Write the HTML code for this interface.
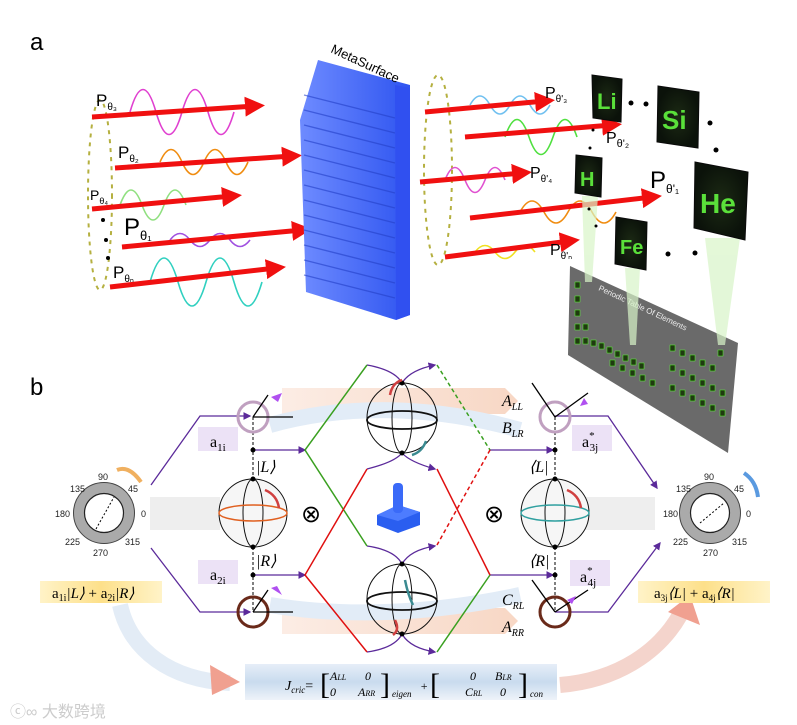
<!DOCTYPE html>
<html><head><meta charset="utf-8"><style>
body{margin:0;background:#fff}
svg{display:block;font-family:"Liberation Sans",sans-serif}
.s{font-family:"Liberation Serif",serif}
</style></head><body>
<svg width="797" height="725" viewBox="0 0 797 725" xmlns="http://www.w3.org/2000/svg">
<defs>
<linearGradient id="ms" x1="0" x2="1"><stop offset="0" stop-color="#6e8bff"/><stop offset="1" stop-color="#2f55f0"/></linearGradient>
<linearGradient id="yl" x1="0" x2="1"><stop offset="0" stop-color="#fff3c8"/><stop offset=".5" stop-color="#fde08a"/><stop offset="1" stop-color="#fff3c8"/></linearGradient>
<linearGradient id="eq" x1="0" y1="0" x2="0" y2="1"><stop offset="0" stop-color="#e6eef8"/><stop offset=".5" stop-color="#c9dbee"/><stop offset="1" stop-color="#eef3f9"/></linearGradient>
<linearGradient id="pk" x1="0" x2="1"><stop offset="0" stop-color="#fbe8de"/><stop offset="1" stop-color="#f6cdb6"/></linearGradient>
<radialGradient id="el"><stop offset="0" stop-color="#1c2a14"/><stop offset="1" stop-color="#0b120a"/></radialGradient>
<marker id="pa" markerWidth="6" markerHeight="6" refX="5" refY="3" orient="auto"><path d="M0,0 L6,3 L0,6z" fill="#5b2a9a"/></marker>
<marker id="ra" markerWidth="4" markerHeight="4" refX="2" refY="2" orient="auto"><path d="M0,0 L4,2 L0,4z" fill="#f01010"/></marker>
</defs>

<text x="30" y="50" font-size="24">a</text>

<ellipse cx="100" cy="195" rx="12" ry="95" fill="none" stroke="#b5b040" stroke-width="2" stroke-dasharray="4 5"/>
<ellipse cx="438" cy="170" rx="14" ry="95" fill="none" stroke="#b5b040" stroke-width="2" stroke-dasharray="4 5"/>

<g fill="none" stroke-width="1.6">
<path d="M130,112 q13,-45 26,0 t26,0 t26,0 t26,0" stroke="#e040d0"/>
<path d="M160,162 q11,-25 22,0 t22,0 t22,0 t22,0" stroke="#f08c10"/>
<path d="M120,205 q11,-30 22,0 t22,0 t22,0" stroke="#90e080"/>
<path d="M170,240 q10,-13 20,0 t20,0 t20,0 t20,0" stroke="#a050e0"/>
<path d="M150,282 q14,-48 28,0 t28,0 t28,0 t28,0" stroke="#30d0c0"/>
</g>
<g stroke="#f01010" stroke-width="5" marker-end="url(#ra)">
<line x1="92" y1="117" x2="255" y2="106"/>
<line x1="115" y1="168" x2="292" y2="156"/>
<line x1="92" y1="209" x2="232" y2="196"/>
<line x1="122" y1="247" x2="302" y2="230"/>
<line x1="110" y1="287" x2="276" y2="268"/>
</g>
<g font-size="17"><text x="96" y="106">P<tspan font-size="10" dy="4">θ₃</tspan></text>
<text x="118" y="158">P<tspan font-size="10" dy="4">θ₂</tspan></text>
<text x="90" y="200" font-size="14">P<tspan font-size="9" dy="4">θ₄</tspan></text>
<text x="124" y="235" font-size="24">P<tspan font-size="13" dy="5">θ₁</tspan></text>
<text x="113" y="278">P<tspan font-size="10" dy="4">θₙ</tspan></text></g>
<g fill="#000"><circle cx="103" cy="220" r="2"/><circle cx="106" cy="240" r="2"/><circle cx="108" cy="258" r="2"/></g>

<polygon points="318,60 410,85 410,315 396,320 306,292 300,120" fill="url(#ms)"/>
<g stroke="#2440c8" stroke-width="1.4" opacity=".6">
<line x1="304" y1="95" x2="395" y2="118"/><line x1="304" y1="110" x2="395" y2="133"/><line x1="304" y1="125" x2="395" y2="148"/><line x1="304" y1="140" x2="395" y2="163"/><line x1="304" y1="155" x2="395" y2="178"/><line x1="304" y1="170" x2="395" y2="193"/><line x1="304" y1="185" x2="395" y2="208"/><line x1="304" y1="200" x2="395" y2="223"/><line x1="304" y1="215" x2="395" y2="238"/><line x1="304" y1="230" x2="395" y2="253"/><line x1="304" y1="245" x2="395" y2="268"/><line x1="304" y1="260" x2="395" y2="283"/><line x1="304" y1="275" x2="395" y2="298"/>
</g>
<polygon points="395,85 410,88 410,315 396,320" fill="#3050f0"/>
<text x="330" y="52" font-size="13" transform="rotate(25 330 52)">MetaSurface</text>

<g fill="none" stroke-width="1.6">
<path d="M470,105 q10,-18 20,0 t20,0 t20,0 t20,0" stroke="#70c0f0"/>
<path d="M505,137 q12,-35 24,0 t24,0 t24,0" stroke="#50e040"/>
<path d="M445,180 q10,-25 20,0 t20,0 t20,0" stroke="#e050d0"/>
<path d="M520,212 q12,-22 24,0 t24,0 t24,0 t24,0" stroke="#f08c10"/>
<path d="M475,252 q10,-13 20,0 t20,0 t20,0" stroke="#f0e020"/>
</g>
<g stroke="#f01010" stroke-width="5" marker-end="url(#ra)">
<line x1="425" y1="112" x2="545" y2="101"/>
<line x1="465" y1="137" x2="612" y2="125"/>
<line x1="420" y1="182" x2="522" y2="173"/>
<line x1="470" y1="218" x2="652" y2="197"/>
<line x1="445" y1="257" x2="570" y2="241"/>
</g>
<g font-size="16"><text x="545" y="98">P<tspan font-size="10" dy="4">θ'₃</tspan></text>
<text x="606" y="143">P<tspan font-size="11" dy="4">θ'₂</tspan></text>
<text x="530" y="178">P<tspan font-size="10" dy="4">θ'₄</tspan></text>
<text x="650" y="188" font-size="24">P<tspan font-size="12" dy="5">θ'₁</tspan></text>
<text x="550" y="255">P<tspan font-size="10" dy="4">θ'ₙ</tspan></text></g>

<polygon points="570,266 738,343 728,453 568,355" fill="#6a6a6a"/>
<text x="598" y="290" font-size="8" fill="#eee" transform="rotate(25 598 290)">Periodic Table Of Elements</text>
<g fill="#1f3a10" stroke="#5aff30" stroke-width=".5">
<rect x="575" y="282" width="5" height="6"/><rect x="575" y="296" width="5" height="6"/><rect x="575" y="310" width="5" height="6"/><rect x="575" y="324" width="5" height="6"/><rect x="575" y="338" width="5" height="6"/>
<rect x="583" y="324" width="5" height="6"/><rect x="583" y="338" width="5" height="6"/><rect x="591" y="340" width="5" height="6"/><rect x="599" y="343" width="5" height="6"/><rect x="607" y="347" width="5" height="6"/><rect x="615" y="351" width="5" height="6"/><rect x="623" y="355" width="5" height="6"/><rect x="631" y="359" width="5" height="6"/><rect x="639" y="363" width="5" height="6"/>
<rect x="670" y="345" width="5" height="6"/><rect x="680" y="350" width="5" height="6"/><rect x="690" y="355" width="5" height="6"/><rect x="700" y="360" width="5" height="6"/><rect x="710" y="365" width="5" height="6"/><rect x="718" y="350" width="5" height="6"/>
<rect x="670" y="365" width="5" height="6"/><rect x="680" y="370" width="5" height="6"/><rect x="690" y="375" width="5" height="6"/><rect x="700" y="380" width="5" height="6"/><rect x="710" y="385" width="5" height="6"/><rect x="720" y="390" width="5" height="6"/>
<rect x="670" y="385" width="5" height="6"/><rect x="680" y="390" width="5" height="6"/><rect x="690" y="395" width="5" height="6"/><rect x="700" y="400" width="5" height="6"/><rect x="710" y="405" width="5" height="6"/><rect x="720" y="410" width="5" height="6"/>
<rect x="650" y="380" width="5" height="6"/><rect x="640" y="375" width="5" height="6"/><rect x="630" y="370" width="5" height="6"/><rect x="620" y="365" width="5" height="6"/><rect x="610" y="360" width="5" height="6"/>
</g>
<g fill="#d8f5c8" opacity=".7"><polygon points="582,196 598,196 592,282 585,282"/><polygon points="625,268 640,268 636,345 630,345"/><polygon points="705,238 740,238 725,345 718,345"/></g>
<g fill="url(#el)" stroke="#0a0a0a">
<polygon points="592,75 622,79 621,122 593,118"/>
<polygon points="658,86 699,92 698,148 657,142"/>
<polygon points="576,155 602,158 601,197 575,193"/>
<polygon points="695,162 748,172 745,240 694,228"/>
<polygon points="616,217 647,222 646,270 615,264"/>
</g>
<g fill="#5ae03a" font-weight="bold">
<text x="597" y="109" font-size="22">Li</text>
<text x="662" y="129" font-size="26">Si</text>
<text x="580" y="186" font-size="20">H</text>
<text x="700" y="213" font-size="28">He</text>
<text x="620" y="254" font-size="20">Fe</text></g>
<g fill="#000"><circle cx="631" cy="103" r="2.5"/><circle cx="646" cy="104" r="2.5"/><circle cx="710" cy="123" r="2.5"/><circle cx="716" cy="150" r="2.5"/><circle cx="668" cy="254" r="2.5"/><circle cx="695" cy="253" r="2.5"/><circle cx="593" cy="130" r="1.5"/><circle cx="590" cy="148" r="1.5"/><circle cx="589" cy="209" r="1.5"/><circle cx="596" cy="226" r="1.5"/></g>

<text x="30" y="395" font-size="24">b</text>

<rect x="150" y="497" width="70" height="33" fill="#eee"/>
<rect x="585" y="497" width="70" height="33" fill="#eee"/>
<path d="M282,388 L505,388 L518,401 L505,414 L282,414z" fill="url(#pk)" opacity=".8"/>
<path d="M282,608 L505,608 L518,621 L505,634 L282,634z" fill="url(#pk)" opacity=".8"/>
<path d="M270,425 C360,400 450,410 520,430" stroke="#e2ecf7" stroke-width="16" fill="none"/>
<path d="M270,605 C360,620 450,610 520,595" stroke="#e2ecf7" stroke-width="16" fill="none"/>
<path d="M120,605 C130,650 170,680 230,683" stroke="#e3ecf6" stroke-width="16" fill="none"/>
<polygon points="210,665 240,682 212,695" fill="#f0a090"/>
<path d="M560,685 C620,680 660,650 680,615" stroke="#f4d4cc" stroke-width="16" fill="none"/>
<polygon points="668,612 690,595 700,625" fill="#f0a090"/>

<circle cx="104" cy="513" r="25" fill="none" stroke="#aaa" stroke-width="11"/>
<circle cx="104" cy="513" r="30.5" fill="none" stroke="#444" stroke-width="1"/>
<circle cx="104" cy="513" r="19.5" fill="none" stroke="#222" stroke-width="1.2"/>
<line x1="96" y1="529" x2="114" y2="497" stroke="#000" stroke-dasharray="2 2"/>
<g font-size="9" fill="#222">
<text x="98" y="480">90</text><text x="70" y="492">135</text><text x="128" y="492">45</text><text x="55" y="517">180</text><text x="141" y="517">0</text><text x="65" y="545">225</text><text x="125" y="545">315</text><text x="93" y="556">270</text>
</g>
<path d="M117,470 q12,-5 24,12" stroke="#f0b060" stroke-width="4" fill="none"/>
<circle cx="710" cy="513" r="25" fill="none" stroke="#aaa" stroke-width="11"/>
<circle cx="710" cy="513" r="30.5" fill="none" stroke="#444" stroke-width="1"/>
<circle cx="710" cy="513" r="19.5" fill="none" stroke="#222" stroke-width="1.2"/>
<line x1="700" y1="523" x2="724" y2="503" stroke="#000" stroke-dasharray="2 2"/>
<g font-size="9" fill="#222">
<text x="704" y="480">90</text><text x="676" y="492">135</text><text x="734" y="492">45</text><text x="663" y="517">180</text><text x="746" y="517">0</text><text x="673" y="545">225</text><text x="732" y="545">315</text><text x="703" y="556">270</text>
</g>
<path d="M744,473 q12,8 14,24" stroke="#5a9ae0" stroke-width="4" fill="none"/>

<g stroke="#5b2a9a" stroke-width="1.3" fill="none">
<polyline points="151,485 200,416 250,416" marker-end="url(#pa)"/>
<polyline points="151,548 200,612 250,612" marker-end="url(#pa)"/>
<line x1="253" y1="450" x2="305" y2="450" marker-end="url(#pa)"/>
<line x1="253" y1="575" x2="305" y2="575" marker-end="url(#pa)"/>
<line x1="490" y1="450" x2="553" y2="450" marker-end="url(#pa)"/>
<line x1="490" y1="575" x2="553" y2="575" marker-end="url(#pa)"/>
<polyline points="555,416 608,416 657,488" marker-end="url(#pa)"/>
<polyline points="555,612 608,612 660,543" marker-end="url(#pa)"/>
<path d="M367,365 Q395,370 402,383 Q410,370 435,365" marker-end="url(#pa)"/>
<path d="M367,469 Q395,462 402,453 Q410,462 435,469" marker-end="url(#pa)"/>
<path d="M367,546 Q395,550 402,564 Q410,550 435,546" marker-end="url(#pa)"/>
<path d="M367,652 Q395,648 402,634 Q410,648 435,652" marker-end="url(#pa)"/>
</g>
<g stroke-width="1.5" fill="none">
<polyline points="367,365 305,450 367,546" stroke="#3aa020"/>
<polyline points="367,469 305,575 367,652" stroke="#e01010"/>
<line x1="437" y1="365" x2="490" y2="450" stroke="#3aa020" stroke-dasharray="4 3"/>
<line x1="490" y1="450" x2="437" y2="545" stroke="#e01010" stroke-dasharray="4 3"/>
<line x1="437" y1="469" x2="490" y2="575" stroke="#e01010"/>
<line x1="490" y1="575" x2="437" y2="652" stroke="#3aa020"/>
</g>

<line x1="253" y1="417" x2="253" y2="612" stroke="#000" stroke-dasharray="3 2"/>
<line x1="555" y1="417" x2="555" y2="612" stroke="#000" stroke-dasharray="3 2"/>

<g fill="none" stroke="#111" stroke-width="1">
<circle cx="253" cy="513" r="34" fill="#f6f6f6"/>
<ellipse cx="253" cy="513" rx="10" ry="34"/>
<ellipse cx="253" cy="513" rx="34" ry="8" stroke="#e06020" stroke-width="1.5"/>
<circle cx="555" cy="513" r="34" fill="#f6f6f6"/>
<ellipse cx="555" cy="513" rx="10" ry="34"/>
<ellipse cx="555" cy="513" rx="34" ry="8" stroke="#30a0a0" stroke-width="1.5"/>
<circle cx="402" cy="418" r="35"/>
<ellipse cx="402" cy="420" rx="35" ry="9" stroke-width="1.8"/>
<ellipse cx="402" cy="418" rx="10" ry="35"/>
<circle cx="402" cy="599" r="35"/>
<ellipse cx="402" cy="601" rx="35" ry="9" stroke-width="1.8"/>
<ellipse cx="402" cy="599" rx="10" ry="35"/>
</g>
<g fill="#000"><circle cx="253" cy="479" r="2.5"/><circle cx="253" cy="547" r="2.5"/><circle cx="253" cy="450" r="2.5"/><circle cx="253" cy="575" r="2.5"/>
<circle cx="555" cy="479" r="2.5"/><circle cx="555" cy="547" r="2.5"/><circle cx="555" cy="450" r="2.5"/><circle cx="555" cy="575" r="2.5"/>
<circle cx="402" cy="383" r="2.5"/><circle cx="402" cy="453" r="2.5"/><circle cx="402" cy="564" r="2.5"/><circle cx="402" cy="634" r="2.5"/></g>
<g stroke="#d04040" stroke-width="2.5" fill="none"><path d="M265,490 q12,5 14,18"/><path d="M567,490 q12,5 14,18"/><path d="M390,395 q2,-12 12,-15"/><path d="M395,620 q5,10 -2,15"/></g>
<g stroke="#3a8a90" stroke-width="2.5" fill="none"><path d="M412,455 q10,-3 14,-14"/><path d="M405,580 q3,15 8,25"/></g>

<g fill="none" stroke-width="3">
<circle cx="253" cy="417" r="15" stroke="#c0a0c0"/>
<circle cx="253" cy="612" r="15" stroke="#6a2a1a"/>
<circle cx="555" cy="417" r="15" stroke="#c0a0c0"/>
<circle cx="555" cy="612" r="15" stroke="#6a2a1a"/>
</g>
<g stroke="#000" stroke-width="1.3">
<line x1="253" y1="417" x2="293" y2="417"/><line x1="253" y1="417" x2="268" y2="395"/>
<line x1="253" y1="612" x2="293" y2="612"/><line x1="253" y1="612" x2="268" y2="590"/>
<line x1="555" y1="417" x2="588" y2="393"/><line x1="555" y1="417" x2="532" y2="383"/>
<line x1="555" y1="612" x2="588" y2="590"/><line x1="555" y1="612" x2="532" y2="580"/>
</g>
<g fill="#b050f0"><polygon points="271,397 282,393 278,402"/><polygon points="271,588 282,595 277,586"/><polygon points="580,406 588,404 584,398"/><polygon points="567,600 576,596 572,604"/></g>

<g class="s" font-size="16">
<rect x="198" y="427" width="40" height="24" fill="#ece2f6"/>
<text x="210" y="447">a<tspan font-size="11" dy="4">1i</tspan></text>
<rect x="198" y="560" width="40" height="24" fill="#ece2f6"/>
<text x="210" y="580">a<tspan font-size="11" dy="4">2i</tspan></text>
<rect x="572" y="425" width="40" height="26" fill="#ece2f6"/>
<text x="582" y="447">a<tspan font-size="11" dy="-8">*</tspan><tspan font-size="11" dx="-5" dy="12">3j</tspan></text>
<rect x="570" y="560" width="40" height="26" fill="#ece2f6"/>
<text x="580" y="582">a<tspan font-size="11" dy="-8">*</tspan><tspan font-size="11" dx="-5" dy="12">4j</tspan></text>
<text x="256" y="472" font-style="italic">|L⟩</text>
<text x="256" y="566" font-style="italic">|R⟩</text>
<text x="529" y="472" font-style="italic">⟨L|</text>
<text x="529" y="566" font-style="italic">⟨R|</text>
<text x="502" y="406" font-style="italic">A<tspan font-size="10" dy="4">LL</tspan></text>
<text x="502" y="433" font-style="italic">B<tspan font-size="10" dy="4">LR</tspan></text>
<text x="502" y="605" font-style="italic">C<tspan font-size="10" dy="4">RL</tspan></text>
<text x="502" y="632" font-style="italic">A<tspan font-size="10" dy="4">RR</tspan></text>
</g>
<g font-size="24"><text x="301" y="522">⊗</text><text x="484" y="522">⊗</text></g>

<polygon points="377,515 398,505 420,512 420,525 398,533 377,525" fill="#2a5ef0"/>
<polygon points="377,515 398,505 420,512 398,521" fill="#4d7cff"/>
<rect x="393" y="483" width="10" height="30" rx="4" fill="#3a6af8"/>

<rect x="40" y="581" width="122" height="22" fill="url(#yl)"/>
<text x="52" y="598" class="s" font-size="15">a<tspan font-size="10" dy="3">1i</tspan><tspan dy="-3" font-style="italic">|L⟩</tspan> + a<tspan font-size="10" dy="3">2i</tspan><tspan dy="-3" font-style="italic">|R⟩</tspan></text>
<rect x="638" y="581" width="132" height="22" fill="url(#yl)"/>
<text x="654" y="598" class="s" font-size="15">a<tspan font-size="9" dy="3">3j</tspan><tspan dy="-3" font-style="italic">⟨L|</tspan> + a<tspan font-size="9" dy="3">4j</tspan><tspan dy="-3" font-style="italic">⟨R|</tspan></text>
<rect x="245" y="664" width="312" height="36" fill="url(#eq)"/>
<text x="285" y="690" class="s" font-size="14" font-style="italic">J<tspan font-size="9" dy="3">cric</tspan><tspan dy="-3" font-style="normal">=</tspan></text>
<text x="320" y="694" class="s" font-size="30">[</text><text x="380" y="694" class="s" font-size="30">]</text>
<g class="s" font-style="italic" font-size="12"><text x="330" y="680">A<tspan font-size="8">LL</tspan></text><text x="365" y="680">0</text><text x="330" y="696">0</text><text x="358" y="696">A<tspan font-size="8">RR</tspan></text>
<text x="392" y="697" font-size="9">eigen</text><text x="420" y="690">+</text>
<text x="470" y="680">0</text><text x="495" y="680">B<tspan font-size="8">LR</tspan></text><text x="465" y="696">C<tspan font-size="8">RL</tspan></text><text x="500" y="696">0</text><text x="530" y="697" font-size="9">con</text></g>
<text x="430" y="694" class="s" font-size="30">[</text><text x="518" y="694" class="s" font-size="30">]</text>

<text x="10" y="717" font-size="16" fill="#ccc" font-family="'Liberation Sans','Noto Sans CJK SC',sans-serif">ⓒ∞ 大数跨境</text>
</svg>
</body></html>
